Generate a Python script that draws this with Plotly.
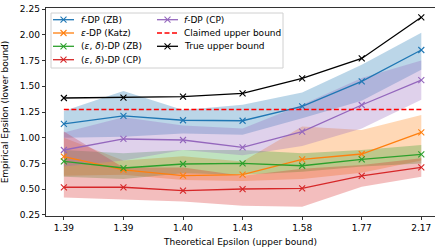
import plotly.graph_objects as go

# ---------------- data ----------------
x_labels = ["1.39", "1.39", "1.40", "1.43", "1.58", "1.77", "2.17"]
x_idx = list(range(len(x_labels)))

true_upper = [1.386, 1.390, 1.400, 1.430, 1.577, 1.770, 2.170]
claimed_upper = [1.275, 1.275, 1.275, 1.275, 1.275, 1.275, 1.275]

fdp_zb = [1.135, 1.213, 1.170, 1.165, 1.305, 1.548, 1.852]
fdp_zb_lo = [1.00, 1.01, 1.04, 1.03, 1.19, 1.36, 1.66]
fdp_zb_hi = [1.26, 1.455, 1.27, 1.32, 1.44, 1.71, 2.02]

katz = [0.816, 0.687, 0.632, 0.642, 0.790, 0.842, 1.053]
katz_lo = [0.63, 0.64, 0.59, 0.58, 0.60, 0.66, 0.78]
katz_hi = [1.00, 0.78, 0.82, 0.77, 1.11, 1.075, 1.22]

epsdelta_zb = [0.771, 0.706, 0.745, 0.752, 0.728, 0.790, 0.839]
epsdelta_zb_lo = [0.62, 0.60, 0.655, 0.64, 0.67, 0.72, 0.75]
epsdelta_zb_hi = [0.88, 0.85, 0.88, 0.88, 0.85, 0.88, 0.93]

epsdelta_cp = [0.519, 0.519, 0.486, 0.502, 0.509, 0.629, 0.713]
epsdelta_cp_lo = [0.42, 0.40, 0.38, 0.34, 0.33, 0.525, 0.62]
epsdelta_cp_hi = [1.06, 0.71, 0.71, 0.63, 0.70, 0.735, 0.80]

fdp_cp = [0.881, 0.988, 0.978, 0.907, 1.059, 1.318, 1.560]
fdp_cp_lo = [0.72, 0.78, 0.88, 0.83, 0.92, 1.09, 1.37]
fdp_cp_hi = [1.05, 1.20, 1.12, 1.09, 1.32, 1.58, 1.75]

y_ticks = [0.25, 0.50, 0.75, 1.00, 1.25, 1.50, 1.75, 2.00, 2.25]

# ---------------- styling ----------------
FONT = "DejaVu Sans"
FS = 9
W, H = 435, 247
ML, MR, MT, MB = 46, 0, 8, 31
PW, PH = W - ML - MR, H - MT - MB

series = [
    ("<i>f</i>-DP (ZB)", fdp_zb, fdp_zb_lo, fdp_zb_hi, (31, 119, 180)),
    ("<i>ε</i>-DP (Katz)", katz, katz_lo, katz_hi, (255, 127, 14)),
    ("(<i>ε</i>, <i>δ</i>)-DP (ZB)", epsdelta_zb, epsdelta_zb_lo, epsdelta_zb_hi, (44, 160, 44)),
    ("(<i>ε</i>, <i>δ</i>)-DP (CP)", epsdelta_cp, epsdelta_cp_lo, epsdelta_cp_hi, (214, 39, 40)),
    ("<i>f</i>-DP (CP)", fdp_cp, fdp_cp_lo, fdp_cp_hi, (148, 103, 189)),
]

fig = go.Figure()

# bands
for name, y, lo, hi, c in series:
    fig.add_trace(go.Scatter(x=x_idx, y=hi, mode="lines", line=dict(width=0),
                             showlegend=False, hoverinfo="skip"))
    fig.add_trace(go.Scatter(x=x_idx, y=lo, mode="lines", line=dict(width=0),
                             fill="tonexty", fillcolor=f"rgba({c[0]},{c[1]},{c[2]},0.3)",
                             showlegend=False, hoverinfo="skip"))

# lines
for name, y, lo, hi, c in series:
    col = f"rgb({c[0]},{c[1]},{c[2]})"
    fig.add_trace(go.Scatter(x=x_idx, y=y, mode="lines+markers", name=name,
                             line=dict(color=col, width=1.3),
                             marker=dict(symbol="x-thin", size=6, line=dict(color=col, width=1.1)),
                             showlegend=False))

fig.add_trace(go.Scatter(x=x_idx, y=claimed_upper, mode="lines", name="Claimed upper bound",
                         line=dict(color="#ff0000", width=1.5, dash="5px,2.5px"), showlegend=False))
fig.add_trace(go.Scatter(x=x_idx, y=true_upper, mode="lines+markers", name="True upper bound",
                         line=dict(color="black", width=1.3),
                         marker=dict(symbol="x-thin", size=6, line=dict(color="black", width=1.1)),
                         showlegend=False))

# ---------------- custom legend (matplotlib style, 2 columns) ----------------
def px(x):
    return (x - ML) / PW

def py(y):
    return (MT + PH - y) / PH

shapes = []
annotations = []
shapes.append(dict(type="rect", xref="paper", yref="paper",
                   x0=px(51), x1=px(283), y0=py(68), y1=py(13),
                   line=dict(color="#d0d0d0", width=1), fillcolor="rgba(255,255,255,0.8)",
                   layer="above"))

legend_items = [
    (series[0][0], "rgb(31,119,180)", "solid", True),
    (series[1][0], "rgb(255,127,14)", "solid", True),
    (series[2][0], "rgb(44,160,44)", "solid", True),
    (series[3][0], "rgb(214,39,40)", "solid", True),
    (series[4][0], "rgb(148,103,189)", "solid", True),
    ("Claimed upper bound", "#ff0000", "5px,2.5px", False),
    ("True upper bound", "black", "solid", True),
]
rows = [19.7, 33.0, 46.3, 59.7]
cols = [(53, 74, 79), (157, 178, 182)]
for i, (label, col, dash, mk) in enumerate(legend_items):
    cx0, cx1, tx = cols[0] if i < 4 else cols[1]
    ry = rows[i] if i < 4 else rows[i - 4]
    shapes.append(dict(type="line", xref="paper", yref="paper",
                       x0=px(cx0), x1=px(cx1), y0=py(ry), y1=py(ry),
                       line=dict(color=col, width=1.4 if dash != "solid" else 1.3, dash=dash),
                       layer="above"))
    if mk:
        cxm = (cx0 + cx1) / 2
        for sgn in (1, -1):
            shapes.append(dict(type="line", xref="paper", yref="paper",
                               xsizemode="pixel", ysizemode="pixel",
                               xanchor=px(cxm), yanchor=py(ry),
                               x0=-3, x1=3, y0=-3 * sgn, y1=3 * sgn,
                               line=dict(color=col, width=1.1), layer="above"))
    annotations.append(dict(xref="paper", yref="paper", x=px(tx), y=py(ry),
                            xanchor="left", yanchor="middle", text=label, showarrow=False,
                            font=dict(family=FONT, size=FS, color="black")))

fig.update_layout(
    width=W, height=H,
    margin=dict(l=ML, r=MR, t=MT, b=MB),
    paper_bgcolor="white", plot_bgcolor="white",
    font=dict(family=FONT, size=FS, color="black"),
    showlegend=False,
    hovermode=False,
    shapes=shapes,
    annotations=annotations,
    xaxis=dict(range=[-0.3, 6.23], tickvals=x_idx, ticktext=x_labels, automargin=False,
               showgrid=False, zeroline=False, showline=True, linecolor="black", linewidth=0.8,
               mirror=True, ticks="outside", ticklen=3.5, tickwidth=0.8, tickcolor="black",
               title=dict(text="Theoretical Epsilon (upper bound)",
                          font=dict(family=FONT, size=FS))),
    yaxis=dict(range=[0.24, 2.26], tickvals=y_ticks, tickformat=".2f", automargin=False,
               showgrid=False, zeroline=False, showline=True, linecolor="black", linewidth=0.8,
               ticks="outside", ticklen=3.5, tickwidth=0.8, tickcolor="black",
               title=dict(text="Empirical Epsilon (lower bound)",
                          font=dict(family=FONT, size=FS))),
)

fig.write_html("out.html", config={"displayModeBar": False, "staticPlot": True},
               post_script="document.body.style.margin='0px';document.body.style.padding='0px';")
